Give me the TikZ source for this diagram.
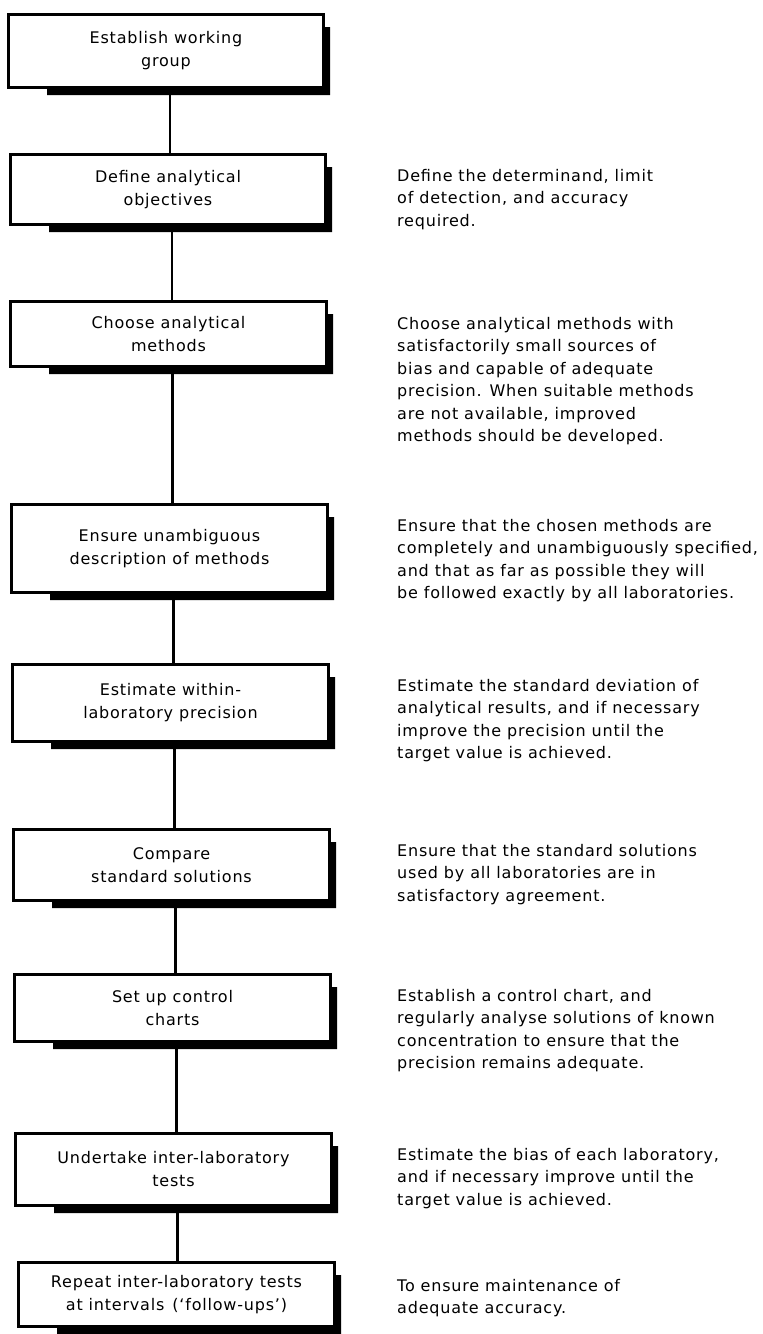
\documentclass[tikz,border=0pt]{standalone}
\usepackage{fontspec}
\setmainfont{DejaVu Sans}[LetterSpace=5]
\newcommand\flowbox[6]{%
  \pgfmathsetmacro\bxL{#2}\pgfmathsetmacro\bxR{#3}%
  \pgfmathsetmacro\bxT{#4}\pgfmathsetmacro\bxB{#5}%
  \fill[shadowfill] (\bxL+40,\bxB) -- (\bxL+40,\bxB+6) -- (\bxR+5,\bxB+6) -- (\bxR+5,\bxT+14) -- (\bxR,\bxT+14) -- (\bxR,\bxB) -- cycle;
  \node[flowstep, minimum width={(\bxR-\bxL-2.8)*1pt}, minimum height={(\bxB-\bxT-2.8)*1pt}] (#1) at ({(\bxL+\bxR)/2},{(\bxT+\bxB)/2}) {#6};
}
\begin{document}
\begin{tikzpicture}[x=1pt,y=-1pt,
  flowstep/.style={draw=black, fill=white, line width=2.8pt, inner sep=0pt, align=center,
    font=\fontsize{16}{23}\selectfont},
  shadowfill/.style={fill=black},
  desc/.style={anchor=base west, inner sep=0pt, font=\fontsize{16}{22.5}\selectfont},
  conn/.style={line width=2.4pt}]
\path[use as bounding box, fill=white] (0,0) rectangle (763,1334);

\flowbox{b1}{7}{325}{13}{89}{Establish working\\group}
\flowbox{b2}{9}{327}{153}{226}{Define analytical\\objectives}
\flowbox{b3}{9}{328}{300}{368}{Choose analytical\\methods}
\flowbox{b4}{10}{329}{503}{594}{Ensure unambiguous\\description of methods}
\flowbox{b5}{11}{330}{663}{743}{Estimate within-\\laboratory precision}
\flowbox{b6}{12}{331}{828}{902}{Compare\\standard solutions}
\flowbox{b7}{13}{332}{973}{1043}{Set up control\\charts}
\flowbox{b8}{14}{333}{1132}{1207}{Undertake inter-laboratory\\tests}
\flowbox{b9}{17}{336}{1261}{1328}{Repeat inter-laboratory tests\\at intervals\enspace(`follow-ups')}

\foreach \a/\b in {b1/b2,b2/b3,b3/b4,b4/b5,b5/b6,b6/b7,b7/b8,b8/b9}{
  \path ([xshift=4pt]\a.south) coordinate (s\a);
  \draw[conn] (s\a) -- (s\a |- \b.north);
}

\node[desc] (d2) at (397,181) {\parbox[t]{366pt}{\raggedright
Define the determinand, limit\\of detection, and accuracy\\required.}};
\node[desc] (d3) at (397,329) {\parbox[t]{366pt}{\raggedright
Choose analytical methods with\\satisfactorily small sources of\\bias and capable of adequate\\precision. When suitable methods\\are not available, improved\\methods should be developed.}};
\node[desc] (d4) at (397,531) {\parbox[t]{366pt}{\raggedright
Ensure that the chosen methods are\\completely and unambiguously specified,\\and that as far as possible they will\\be followed exactly by all laboratories.}};
\node[desc] (d5) at (397,691) {\parbox[t]{366pt}{\raggedright
Estimate the standard deviation of\\analytical results, and if necessary\\improve the precision until the\\target value is achieved.}};
\node[desc] (d6) at (397,856) {\parbox[t]{366pt}{\raggedright
Ensure that the standard solutions\\used by all laboratories are in\\satisfactory agreement.}};
\node[desc] (d7) at (397,1001) {\parbox[t]{366pt}{\raggedright
Establish a control chart, and\\regularly analyse solutions of known\\concentration to ensure that the\\precision remains adequate.}};
\node[desc] (d8) at (397,1160) {\parbox[t]{366pt}{\raggedright
Estimate the bias of each laboratory,\\and if necessary improve until the\\target value is achieved.}};
\node[desc] (d9) at (397,1291) {\parbox[t]{366pt}{\raggedright
To ensure maintenance of\\adequate accuracy.}};
\end{tikzpicture}
\end{document}
